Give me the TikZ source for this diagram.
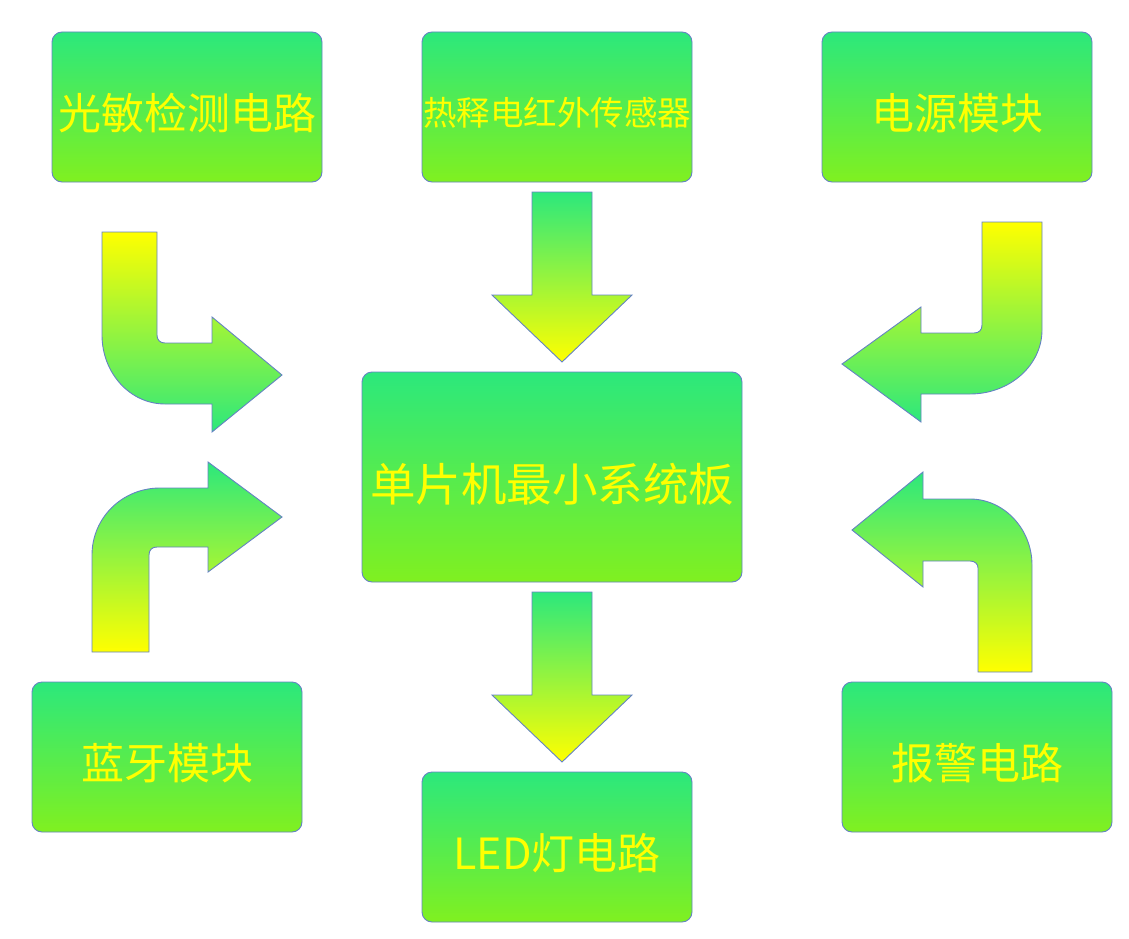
\documentclass[tikz,border=0pt]{standalone}
\usepackage{fontspec}
\newfontfamily\cjk{Noto Sans CJK SC}
\definecolor{boxtop}{RGB}{44,232,124}
\definecolor{boxbot}{RGB}{128,240,32}
\definecolor{arrowyel}{RGB}{255,255,0}
\definecolor{edgeblue}{RGB}{100,130,195}
\definecolor{textyel}{RGB}{255,255,0}

\begin{document}
\begin{tikzpicture}[x=1pt,y=-1pt,
  modbox/.style={draw=edgeblue,line width=0.9pt,rounded corners=10pt,
    top color=boxtop,bottom color=boxbot,
    minimum width=270pt,minimum height=150pt,inner sep=0pt,
    text=textyel,font=\cjk\fontsize{43}{50}\selectfont,
    text height=50pt,text depth=5pt},
  downarrow/.style={draw=edgeblue,line width=0.9pt,top color=boxtop,bottom color=arrowyel},
  uparrow/.style={draw=edgeblue,line width=0.9pt,top color=boxtop,bottom color=arrowyel},
  bentdown/.style={draw=edgeblue,line width=0.9pt,top color=arrowyel,bottom color=boxtop}]

\useasboundingbox (0,0) rectangle (1129,939);

% Modules
\node[modbox] (guangmin) at (187,107) {光敏检测电路};
\node[modbox,font=\cjk\fontsize{33.5}{40}\selectfont,
  text height=40pt,text depth=4pt] (reshi) at (557,107) {热释电红外传感器};
\node[modbox] (dianyuan) at (957,107) {电源模块};
\node[modbox,minimum width=380pt,minimum height=210pt,
  font=\cjk\fontsize{45.5}{52}\selectfont,
  text height=54pt,text depth=5pt] (mcu) at (552,477) {单片机最小系统板};
\node[modbox] (lanya) at (167,757) {蓝牙模块};
\node[modbox] (led) at (557,847) {LED灯电路};
\node[modbox] (baojing) at (977,757) {报警电路};

% Fleches droites
\shadedraw[downarrow]
(532,192) -- (592,192) -- (592,295) -- (632,295) --
(562,362) -- (492,295) -- (532,295) -- cycle;

\shadedraw[downarrow]
(532,592) -- (592,592) -- (592,695) -- (632,695) --
(562,762) -- (492,695) -- (532,695) -- cycle;

% Fleche haut gauche
\shadedraw[bentdown]
(102,232) -- (157,232) -- (157,335)
.. controls (157,340) and (160,343) .. (165,343) --
(212,343) -- (212,317) -- (282,375) -- (212,432) -- (212,404) --
(165,404)
.. controls (130,404) and (102,373) .. (102,335) -- cycle;

% Fleche bas gauche
\shadedraw[uparrow]
(92,652) -- (92,555)
.. controls (92,518) and (122,488) .. (160,488) --
(208,488) -- (208,462) -- (282,517) -- (208,572) -- (208,547) --
(157,547)
.. controls (152,547) and (149,550) .. (149,555) -- (149,652) -- cycle;

% Fleche haut droite
\shadedraw[bentdown]
(1042,222) -- (982,222) -- (982,325)
.. controls (982,330) and (979,333) .. (974,333) --
(921,333) -- (921,307) -- (842,364) -- (921,422) -- (921,394) --
(970,394)
.. controls (1010,394) and (1042,365) .. (1042,330) -- cycle;

% Fleche bas droite
\shadedraw[uparrow]
(1032,672) -- (978,672) -- (978,568)
.. controls (978,564) and (975,561) .. (970,561) --
(923,561) -- (923,587) -- (852,530) -- (923,472) -- (923,499) --
(970,499)
.. controls (1004,499) and (1032,529) .. (1032,565) -- cycle;

\end{tikzpicture}
\end{document}
